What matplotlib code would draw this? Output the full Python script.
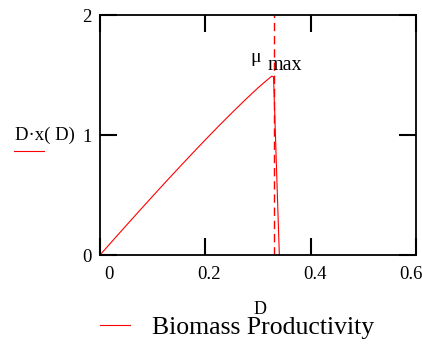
import numpy as np
import matplotlib
matplotlib.use("Agg")
import matplotlib.pyplot as plt
from matplotlib.lines import Line2D
from matplotlib.transforms import ScaledTranslation

plt.rcParams['font.family'] = ['Liberation Serif', 'DejaVu Serif']

# Datos
D = [0.0, 0.025, 0.05, 0.075, 0.1, 0.125, 0.15, 0.175, 0.2, 0.225, 0.25,
     0.275, 0.3, 0.31, 0.32, 0.326, 0.3295, 0.3405]
prod = [0.0, 0.124, 0.247, 0.369, 0.49, 0.61, 0.728, 0.845, 0.96, 1.073, 1.183,
        1.29, 1.393, 1.431, 1.468, 1.49, 1.485, 0.0]
mu_max = 0.331

xticks = [0, 0.2, 0.4, 0.6]
xticklabels = ['0', '0.2', '0.4', '0.6']
yticks = [0, 1, 2]
yticklabels = ['0', '1', '2']

W, H = 422, 346
fig = plt.figure(figsize=(W / 100, H / 100), dpi=100)

# caja de ejes en pixeles: x 100..416, y 15..255
ax = fig.add_axes([100 / W, 1 - 255 / H, 316 / W, 240 / H])
ax.plot(D, prod, color='red', lw=0.8)
ax.axvline(mu_max, color='red', lw=1.0, dashes=(6, 3.5))

ax.set_xlim(0, 0.6)
ax.set_ylim(0, 2)
ax.set_xticks(xticks)
ax.set_xticklabels(xticklabels)
ax.set_yticks(yticks)
ax.set_yticklabels(yticklabels)
ax.tick_params(direction='in', length=12, width=1.5, top=True, right=True,
               labelsize=13.5, colors='black')
ax.tick_params(axis='x', pad=8)
ax.tick_params(axis='y', pad=6)
for s in ax.spines.values():
    s.set_linewidth(1.3)

# desplazamientos tipo Mathcad de las etiquetas del eje x
offsets = [9, 3.5, 4.5, -5]
for lab, dx in zip(ax.get_xticklabels(), offsets):
    lab.set_transform(lab.get_transform() + ScaledTranslation(dx / 100, 0, fig.dpi_scale_trans))

# etiqueta mu max
ax.text(256, H - 58, 'μ', transform=None, fontsize=14, ha='center', va='center')
ax.text(268, H - 66, 'max', transform=None, fontsize=14.5, ha='left', va='center')

# etiqueta del eje y con su linea roja
fig.text(15 / W, 1 - 135 / H, 'D·x( D)', fontsize=13.5, ha='left', va='center')
fig.add_artist(Line2D([14 / W, 44 / W], [1 - 151 / H] * 2, color='red', lw=0.8))

# etiqueta del eje x
fig.text(260 / W, 1 - 309 / H, 'D', fontsize=13, ha='center', va='center')

# leyenda
fig.add_artist(Line2D([100 / W, 130 / W], [1 - 325 / H] * 2, color='red', lw=0.8))
fig.text(152 / W, 1 - 328 / H, 'Biomass Productivity', fontsize=18.5, ha='left', va='center')

fig.savefig('out.png', dpi=100)
